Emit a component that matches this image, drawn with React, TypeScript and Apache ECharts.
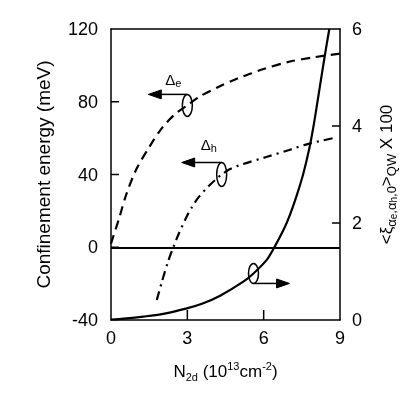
import React, { useEffect, useRef } from "react";
import * as echarts from "echarts";

const xTicks = [0, 3, 6, 9];
const leftTicks = [-40, 0, 40, 80, 120];
const rightTicks = [0, 2, 4, 6];

const deltaE: [number, number][] = [
  [0, 2], [0.08, 5.5], [0.3, 15], [0.6, 29], [1.0, 43], [1.5, 55], [2.0, 65.5],
  [2.5, 73], [3.0, 78], [3.5, 83], [4.2, 88], [5.0, 93], [5.5, 95.5], [6.0, 98],
  [7.0, 102], [8.0, 104.5], [9.0, 106.5],
];
const deltaH: [number, number][] = [
  [1.8, -29], [1.99, -19.5], [2.25, -7.5], [2.45, 0], [2.65, 7], [2.98, 17], [3.17, 21.8],
  [3.43, 27.3], [3.83, 33.5], [4.16, 37.8], [4.35, 40], [4.68, 43], [5.2, 45.8],
  [6.1, 49.6], [7.0, 53.5], [7.8, 57], [8.9, 60.5],
];
const overlap: [number, number][] = [
  [0, 0.01], [0.5, 0.03], [1.27, 0.07], [2, 0.12], [2.98, 0.24], [3.6, 0.34], [4.29, 0.5],
  [5.2, 0.79], [5.6, 0.96], [6.12, 1.24], [6.4, 1.48], [6.8, 1.88], [7.04, 2.18], [7.3, 2.57],
  [7.56, 3.02], [7.8, 3.55], [7.96, 4.0], [8.1, 4.45], [8.28, 5.05], [8.45, 5.6], [8.58, 6.0],
];

const FONT = "Liberation Sans, Arial, sans-serif";

export default function App() {
  const ref = useRef<HTMLDivElement>(null);
  useEffect(() => {
    if (!ref.current) return;
    const chart = echarts.init(ref.current, undefined, { renderer: "svg" });
    const axisLine = { show: true, onZero: false, lineStyle: { color: "#000", width: 1.5 } };
    chart.setOption({
      animation: false,
      grid: { left: 111, right: 75, top: 29, bottom: 74 },
      xAxis: [
        {
          type: "value", min: xTicks[0], max: xTicks[xTicks.length - 1], interval: 3,
          axisLine, splitLine: { show: false }, axisTick: { show: false },
          axisLabel: { color: "#000", fontSize: 18, fontFamily: FONT, margin: 9 },
          name: "{n|N}{s|2d}{n| (10}{p|13}{n|cm}{p|-2}{n|)}",
          nameLocation: "middle", nameGap: 40,
          nameTextStyle: {
            rich: {
              n: { fontSize: 17, fontFamily: FONT, color: "#000", lineHeight: 22, verticalAlign: "middle" },
              s: { fontSize: 11, fontFamily: FONT, color: "#000", verticalAlign: "bottom", lineHeight: 22, padding: [10, 0, 0, 0] },
              p: { fontSize: 11, fontFamily: FONT, color: "#000", verticalAlign: "top", lineHeight: 22, padding: [0, 0, 8, 0] },
            },
          },
        },
        {
          type: "value", position: "top", min: 0, max: 9, axisLine,
          axisTick: { show: false }, axisLabel: { show: false }, splitLine: { show: false },
        },
      ],
      yAxis: [
        {
          type: "value", min: leftTicks[0], max: leftTicks[leftTicks.length - 1], interval: 40,
          axisLine, splitLine: { show: false }, axisTick: { show: false },
          axisLabel: { color: "#000", fontSize: 18, fontFamily: FONT, margin: 13 },
          name: "Confinement energy (meV)", nameLocation: "middle", nameGap: 58, nameRotate: 90,
          nameTextStyle: { color: "#000", fontSize: 19, fontFamily: FONT },
        },
        {
          type: "value", position: "right", min: rightTicks[0], max: rightTicks[rightTicks.length - 1], interval: 2,
          axisLine, splitLine: { show: false }, axisTick: { show: false },
          axisLabel: { color: "#000", fontSize: 18, fontFamily: FONT, margin: 12 },
          name: "{n|<ξ}{s|α}{ss|e}{s|,α}{ss|h}{s|,0}{n|>}{s|QW}{n| X 100}",
          nameLocation: "middle", nameGap: 34, nameRotate: 90,
          nameTextStyle: {
            rich: {
              n: { fontSize: 17, fontFamily: FONT, color: "#000", lineHeight: 24, verticalAlign: "middle" },
              s: { fontSize: 13, fontFamily: FONT, color: "#000", lineHeight: 24, verticalAlign: "bottom", padding: [8, 0, 0, 0] },
              ss: { fontSize: 10, fontFamily: FONT, color: "#000", lineHeight: 24, verticalAlign: "bottom", padding: [14, 0, 0, 0] },
            },
          },
        },
      ],
      series: [
        {
          type: "line", data: deltaE, xAxisIndex: 0, yAxisIndex: 0, smooth: 0.3, showSymbol: false,
          lineStyle: { color: "#000", width: 2.2, type: [9, 6] },
          markLine: {
            silent: true, symbol: "none", label: { show: false },
            lineStyle: { color: "#000", width: 1.8, type: "solid" },
            data: [{ yAxis: 0 }],
          },
        },
        {
          type: "line", data: deltaH, xAxisIndex: 0, yAxisIndex: 0, smooth: 0.3, showSymbol: false,
          lineStyle: { color: "#000", width: 2.2, type: [9, 5, 2, 5] },
        },
        {
          type: "line", data: overlap, xAxisIndex: 0, yAxisIndex: 1, smooth: 0.3, showSymbol: false,
          lineStyle: { color: "#000", width: 2.2, type: "solid" },
        },
      ],
    });

    const px = (x: number, y: number, yi: number) =>
      chart.convertToPixel({ xAxisIndex: 0, yAxisIndex: yi }, [x, y]) as number[];
    const st = { stroke: "#000", lineWidth: 1.5, fill: "none" };
    const ticks: any[] = [];
    xTicks.slice(1, -1).forEach((v) => {
      const p = px(v, leftTicks[0], 0);
      ticks.push({ type: "line", shape: { x1: p[0], y1: p[1], x2: p[0], y2: p[1] - 10 }, style: st });
    });
    leftTicks.slice(1, -1).forEach((v) => {
      const p = px(xTicks[0], v, 0);
      ticks.push({ type: "line", shape: { x1: p[0], y1: p[1], x2: p[0] + 8, y2: p[1] }, style: st });
    });
    rightTicks.slice(1, -1).forEach((v) => {
      const p = px(xTicks[xTicks.length - 1], v, 1);
      ticks.push({ type: "line", shape: { x1: p[0], y1: p[1], x2: p[0] - 8, y2: p[1] }, style: st });
    });

    const pE = px(3.0, 78, 0);
    const pH = px(4.35, 40, 0);
    const pO = px(5.6, 0.96, 1);
    const arrow = (cx: number, cy: number, ry: number, dir: number, len: number) => {
      const y = cy + (dir < 0 ? -ry : ry);
      const tip = cx + dir * len;
      return [
        { type: "ellipse", shape: { cx, cy, rx: 5, ry }, style: st },
        { type: "line", shape: { x1: cx, y1: y, x2: tip - dir * 10, y2: y }, style: st },
        {
          type: "polygon",
          shape: { points: [[tip, y], [tip - dir * 13, y - 4.5], [tip - dir * 13, y + 4.5]] },
          style: { fill: "#000", stroke: "#000", lineWidth: 1 },
        },
      ];
    };
    const lab = (x: number, y: number, sub: string) => ({
      type: "text", x, y,
      style: {
        text: `{a|Δ}{b|${sub}}`, verticalAlign: "middle",
        rich: {
          a: { fontSize: 15, fontFamily: FONT, fill: "#000", lineHeight: 18 },
          b: { fontSize: 11, fontFamily: FONT, fill: "#000", lineHeight: 18, verticalAlign: "bottom", padding: [7, 0, 0, 0] },
        },
      },
    });
    chart.setOption({
      graphic: [
        ...ticks,
        ...arrow(pE[0], pE[1], 11, -1, 39),
        ...arrow(pH[0], pH[1], 12, -1, 40),
        ...arrow(pO[0], pO[1], 10, 1, 36),
        lab(pE[0] - 22, pE[1] - 26, "e"),
        lab(pH[0] - 21, pH[1] - 30, "h"),
      ],
    });
    return () => chart.dispose();
  }, []);
  return <div ref={ref} style={{ position: "fixed", left: 0, top: 0, width: 415, height: 394 }} />;
}
